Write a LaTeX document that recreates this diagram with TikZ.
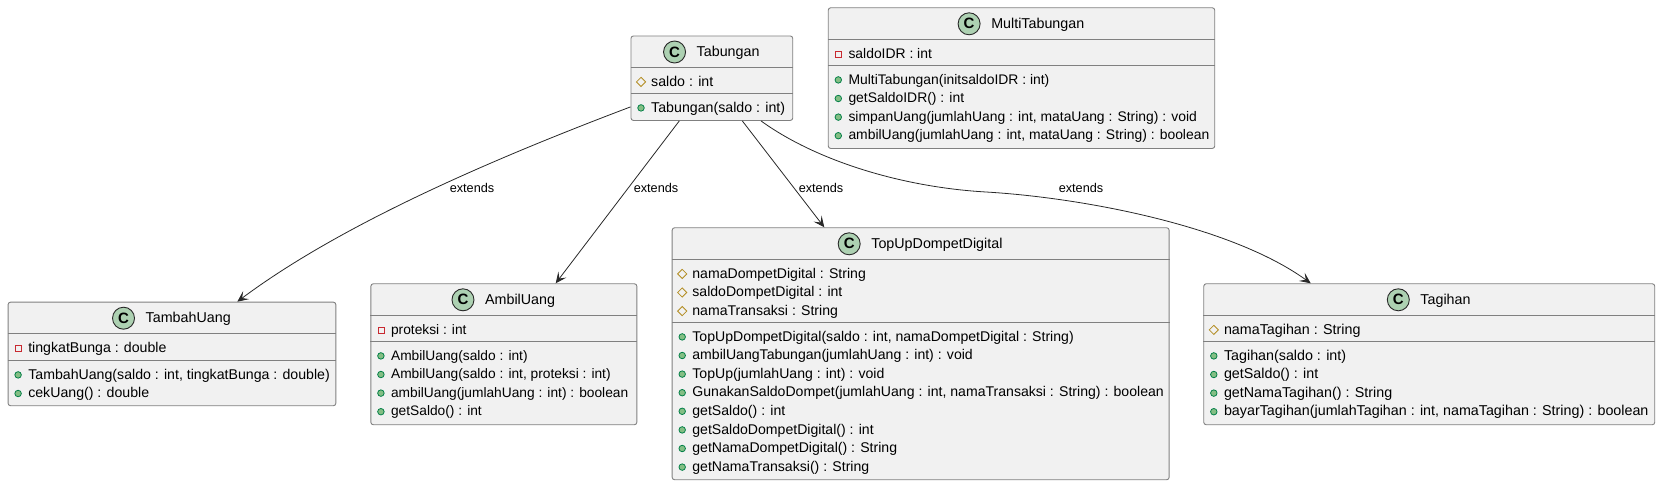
\documentclass[tikz,border=0pt]{standalone}
\usepackage{fontspec}
\setmainfont{Liberation Sans}
\usepackage{tikz}
\usetikzlibrary{arrows.meta,positioning,shapes.geometric}
\definecolor{boxfill}{HTML}{F1F1F1}
\definecolor{boxline}{HTML}{808080}
\definecolor{arrowline}{HTML}{282828}
\definecolor{iconfill}{HTML}{ADD1B2}
\definecolor{pubfill}{HTML}{84BE84}
\definecolor{publine}{HTML}{038048}
\definecolor{protline}{HTML}{B38D22}
\definecolor{privline}{HTML}{C82930}
\def\classhead#1#2#3#4#5#6{
  \def\rowsize{#6}
  \node[classbox,minimum width=#4pt,minimum height=#5pt] (#1) at (#2,#3) {};
  \node[titletext] (#1-title) at ([xshift=16.25pt,yshift=-17.5pt]#1.north) {#1};
  \node[classicon,left=10.5pt of #1-title,yshift=1pt] (#1-icon) {C};
}
\def\classrows#1#2#3#4#5{
  \draw[sepline] ([yshift=-#4pt]#1.north west) -- ([yshift=-#4pt]#1.north east);
  \foreach \row [count=\n] in {#5} {
    \node[#3] (#1-#2\n-mark) at ([shift={(10.5,{#4+14.6+(\n-1)*18.6})}]#1.north west) {};
    \node[rowtext] (#1-#2\n) at ([xshift=10pt,yshift=-.4pt]#1-#2\n-mark.center) {\row};
  }
}
\begin{document}
\begin{tikzpicture}[x=1pt,y=-1pt]
  \tikzset{classbox/.style={draw=boxline,fill=boxfill,line width=.9pt,rounded corners=2.5pt,anchor=north west,inner sep=0pt}};
  \tikzset{sepline/.style={draw=boxline,line width=.9pt}};
  \tikzset{titletext/.style={font=\fontsize{14.3}{16}\selectfont,inner sep=0pt,text height=10.5pt,text depth=3pt}};
  \tikzset{rowtext/.style={font=\fontsize{\rowsize}{16}\selectfont,inner sep=0pt,text height=10.5pt,text depth=3pt,anchor=west}};
  \tikzset{classicon/.style={circle,draw=arrowline,fill=iconfill,line width=.9pt,minimum size=22pt,inner sep=0pt,font=\fontsize{15}{15}\bfseries\selectfont}};
  \tikzset{pubmark/.style={circle,draw=publine,fill=pubfill,line width=.8pt,minimum size=6.5pt,inner sep=0pt}};
  \tikzset{protmark/.style={diamond,draw=protline,line width=.8pt,minimum size=9.5pt,inner sep=0pt}};
  \tikzset{privmark/.style={rectangle,draw=privline,line width=.8pt,minimum size=6pt,inner sep=0pt}};
  \tikzset{extendsline/.style={draw=arrowline,line width=.8pt,-{Stealth[length=11pt,width=10pt,inset=5pt]}}};
  \tikzset{edgetext/.style={font=\fontsize{12.7}{14}\selectfont,inner sep=0pt,text height=9.5pt,text depth=2.5pt}};
  \useasboundingbox (0,0) rectangle (1660,485);
  \classhead{Tabungan}{630.5}{35.5}{161.8}{84.5}{14.2}
  \classrows{Tabungan}{a}{protmark}{31.8}{saldo : int}
  \classrows{Tabungan}{m}{pubmark}{57.8}{Tabungan(saldo : int)}
  \classhead{MultiTabungan}{827.8}{7.3}{386.5}{140.7}{13.9}
  \classrows{MultiTabungan}{a}{privmark}{32}{saldoIDR : int}
  \classrows{MultiTabungan}{m}{pubmark}{58}{MultiTabungan(initsaldoIDR : int),getSaldoIDR() : int,{simpanUang(jumlahUang : int, mataUang : String) : void},{ambilUang(jumlahUang : int, mataUang : String) : boolean}}
  \classhead{TambahUang}{7.6}{301.7}{327.8}{103.6}{14.15}
  \classrows{TambahUang}{a}{privmark}{31.6}{tingkatBunga : double}
  \classrows{TambahUang}{m}{pubmark}{58.6}{{TambahUang(saldo : int, tingkatBunga : double)},cekUang() : double}
  \classhead{AmbilUang}{370.4}{283.3}{266}{141}{13.75}
  \classrows{AmbilUang}{a}{privmark}{32}{proteksi : int}
  \classrows{AmbilUang}{m}{pubmark}{58}{AmbilUang(saldo : int),{AmbilUang(saldo : int, proteksi : int)},ambilUang(jumlahUang : int) : boolean,getSaldo() : int}
  \classhead{TopUpDompetDigital}{671.7}{227.3}{497}{252}{14.08}
  \classrows{TopUpDompetDigital}{a}{protmark}{32}{namaDompetDigital : String,saldoDompetDigital : int,namaTransaksi : String}
  \classrows{TopUpDompetDigital}{m}{pubmark}{95}{{TopUpDompetDigital(saldo : int, namaDompetDigital : String)},ambilUangTabungan(jumlahUang : int) : void,TopUp(jumlahUang : int) : void,{GunakanSaldoDompet(jumlahUang : int, namaTransaksi : String) : boolean},getSaldo() : int,getSaldoDompetDigital() : int,getNamaDompetDigital() : String,getNamaTransaksi() : String}
  \classhead{Tagihan}{1203.3}{283.3}{451}{141}{14.3}
  \classrows{Tagihan}{a}{protmark}{32}{namaTagihan : String}
  \classrows{Tagihan}{m}{pubmark}{58}{Tagihan(saldo : int),getSaldo() : int,getNamaTagihan() : String,{bayarTagihan(jumlahTagihan : int, namaTagihan : String) : boolean}}
  \draw[extendsline] ([yshift=14pt]Tabungan.south west) .. controls (490,160) and (340,225) .. ([xshift=229.7pt]TambahUang.north west);
  \draw[extendsline] ([xshift=48.8pt]Tabungan.south west) -- ([xshift=185.3pt]AmbilUang.north west);
  \draw[extendsline] ([xshift=111.8pt]Tabungan.south west) -- ([xshift=152.6pt]TopUpDompetDigital.north west);
  \draw[extendsline] ([xshift=130.5pt]Tabungan.south west) .. controls (815,160) and (900,187) .. (986,192) .. controls (1080,197.5) and (1230,225) .. ([xshift=107.4pt]Tagihan.north west);
  \node[edgetext] (extends-a) at (472,189) {extends};
  \node[edgetext] (extends-b) at (656,189) {extends};
  \node[edgetext] (extends-c) at (821,189) {extends};
  \node[edgetext] (extends-d) at (1081,189) {extends};
\end{tikzpicture}
\end{document}
